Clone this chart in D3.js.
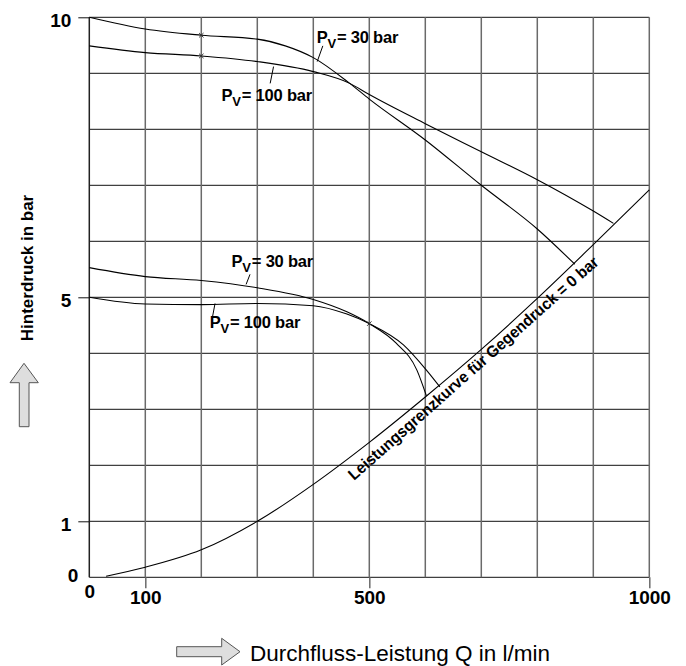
<!DOCTYPE html>
<html><head><meta charset="utf-8">
<script src="https://cdn.jsdelivr.net/npm/d3@7"></script>
<style>
html,body{margin:0;padding:0;background:#fff;}
svg{display:block;font-family:"Liberation Sans",Arial,Helvetica,sans-serif;}
</style></head>
<body>
<svg id="chart" width="686" height="666"></svg>
<script>
// ---- data ----
const xTickValues = [0, 100, 500, 1000];
const xTickLabels = ["0", "100", "500", "1000"];
const yTickValues = [0, 1, 5, 10];
const yTickLabels = ["0", "1", "5", "10"];
const xGrid = [0,100,200,300,400,500,600,700,800,900,1000];
const yGrid = [0,1,2,3,4,5,6,7,8,9,10];

const qUpper30  = [0, 100, 200, 300, 350, 400, 465, 500, 600, 700, 800, 867];
const pUpper30  = [10.0, 9.79, 9.68, 9.61, 9.49, 9.28, 8.82, 8.54, 7.81, 7.0, 6.22, 5.59];
const qUpper100 = [0, 100, 200, 300, 400, 465, 500, 600, 700, 800, 900, 936];
const pUpper100 = [9.49, 9.37, 9.31, 9.21, 9.03, 8.82, 8.62, 8.10, 7.60, 7.10, 6.54, 6.32];
const qLower30  = [0, 100, 200, 300, 400, 460, 500, 548, 585, 602];
const pLower30  = [5.53, 5.37, 5.30, 5.17, 4.96, 4.74, 4.53, 4.18, 3.70, 3.24];
const qLower100 = [0, 100, 200, 300, 400, 460, 500, 561, 602, 626];
const pLower100 = [5.0, 4.88, 4.87, 4.89, 4.85, 4.70, 4.53, 4.15, 3.70, 3.40];
const qLimit = [30, 100, 200, 300, 400, 500, 600, 700, 800, 900, 1000];
const pLimit = [0.02, 0.18, 0.49, 1.0, 1.66, 2.41, 3.22, 4.07, 4.98, 5.94, 6.92];
const markerQ = [200, 200, 500];
const markerP = [9.68, 9.31, 4.53];

const labelTexts = ["= 30 bar", "= 100 bar", "= 30 bar", "= 100 bar"];
const labelQ = [406, 236, 254, 215];
const labelP = [9.535, 8.51, 5.546, 4.446];
const pointerQ1 = [417, 323, 280, 220];
const pointerP1 = [9.49, 8.82, 5.23, 4.65];
const pointerQ2 = [407, 329, 287, 224.5];
const pointerP2 = [9.21, 9.12, 5.41, 4.89];

const limitLabel = "Leistungsgrenzkurve für Gegendruck = 0 bar";
const xTitle = "Durchfluss-Leistung Q in l/min";
const yTitle = "Hinterdruck in bar";

// ---- drawing ----
const svg = d3.select("#chart");
const x = d3.scaleLinear().domain([0, 1000]).range([89.3, 649.3]);
const y = d3.scaleLinear().domain([0, 10]).range([577.3, 17.3]);

// grid
svg.append("g").selectAll("line").data(yGrid).join("line")
  .attr("x1", x(0)).attr("x2", x(1000))
  .attr("y1", d => y(d)).attr("y2", d => y(d))
  .attr("stroke", "#111").attr("stroke-width", 1);
svg.append("g").selectAll("line").data(xGrid).join("line")
  .attr("x1", d => x(d)).attr("x2", d => x(d))
  .attr("y1", y(0)).attr("y2", y(10))
  .attr("stroke", d => d === 0 ? "#222" : "#6a6a6a").attr("stroke-width", 1.5);

// axes (ticks + labels)
const xAxis = d3.axisBottom(x).tickValues(xTickValues)
  .tickFormat((d,i) => xTickLabels[i]).tickSize(11).tickPadding(8);
const gx = svg.append("g").attr("transform", `translate(0,${y(0)})`).call(xAxis);
gx.select(".domain").remove();
gx.selectAll(".tick line").attr("stroke", "#6a6a6a").attr("stroke-width", 1.5)
  .attr("y2", d => d === 0 ? 0 : 11);
gx.selectAll(".tick text").attr("font-size", 19).attr("font-weight", "bold")
  .attr("font-family", "Liberation Sans, Arial, sans-serif").attr("fill", "#000")
  .attr("dy", d => d === 0 ? "0.1em" : "0.4em");

const yAxis = d3.axisLeft(y).tickValues(yTickValues)
  .tickFormat((d,i) => yTickLabels[i]).tickSize(11).tickPadding(7);
const gy = svg.append("g").attr("transform", `translate(${x(0)},0)`).call(yAxis);
gy.select(".domain").remove();
gy.selectAll(".tick line").attr("stroke", "#111").attr("stroke-width", 1)
  .attr("x2", d => d === 0 ? 0 : -11);
gy.selectAll(".tick text").attr("font-size", 19).attr("font-weight", "bold")
  .attr("font-family", "Liberation Sans, Arial, sans-serif").attr("fill", "#000")
  .attr("x", d => d === 0 ? -11 : -18)
  .attr("dy", d => d === 0 ? "0.2em" : "0.5em");

// curves
const line = d3.line().x(d => x(d[0])).y(d => y(d[1])).curve(d3.curveMonotoneX);
const series = [
  [qUpper30, pUpper30], [qUpper100, pUpper100],
  [qLower30, pLower30], [qLower100, pLower100], [qLimit, pLimit]
];
series.forEach(([qs, ps]) => {
  svg.append("path").datum(d3.zip(qs, ps)).attr("d", line)
    .attr("fill", "none").attr("stroke", "#000").attr("stroke-width", 1.1);
});

// markers
d3.zip(markerQ, markerP).forEach(([q, p]) => {
  const cx = x(q), cy = y(p), s = 2.2;
  svg.append("path").attr("d", `M${cx-s},${cy-s}L${cx+s},${cy+s}M${cx-s},${cy+s}L${cx+s},${cy-s}`)
    .attr("stroke", "#333").attr("stroke-width", 1);
});

// curve labels
labelTexts.forEach((t, i) => {
  const tx = svg.append("text").attr("x", x(labelQ[i])).attr("y", y(labelP[i]))
    .attr("font-size", 16.5).attr("font-weight", "bold").attr("fill", "#000")
    .attr("letter-spacing", -0.2);
  tx.append("tspan").text("P");
  tx.append("tspan").attr("dy", 5).attr("font-size", 13).text("V");
  tx.append("tspan").attr("dy", -5).attr("dx", 1).text(t);
  svg.append("line")
    .attr("x1", x(pointerQ1[i])).attr("y1", y(pointerP1[i]))
    .attr("x2", x(pointerQ2[i])).attr("y2", y(pointerP2[i]))
    .attr("stroke", "#000").attr("stroke-width", 1);
});

// limit-curve label
svg.append("text")
  .attr("transform", "translate(354,481) rotate(-41.5)")
  .attr("font-size", 16).attr("font-weight", "bold").attr("fill", "#000")
  .attr("textLength", 328).attr("lengthAdjust", "spacingAndGlyphs")
  .text(limitLabel);

// axis titles
svg.append("text").attr("transform", "translate(33,268) rotate(-90)")
  .attr("text-anchor", "middle").attr("font-size", 17).attr("font-weight", "bold")
  .attr("fill", "#000").text(yTitle);
svg.append("text").attr("x", 250).attr("y", 661)
  .attr("font-size", 22.5).attr("fill", "#000").text(xTitle);

// arrows
svg.append("path")
  .attr("d", "M24,363.3 L38.3,382.7 L29,382.7 L29,426.7 L19.3,426.7 L19.3,382.7 L10,382.7 Z")
  .attr("fill", "#dedede").attr("stroke", "#555").attr("stroke-width", 1);
svg.append("path")
  .attr("d", "M176.7,646.7 L221.7,646.7 L221.7,638.3 L240,651.7 L221.7,665 L221.7,656.7 L176.7,656.7 Z")
  .attr("fill", "#dedede").attr("stroke", "#555").attr("stroke-width", 1);
</script>
</body></html>
